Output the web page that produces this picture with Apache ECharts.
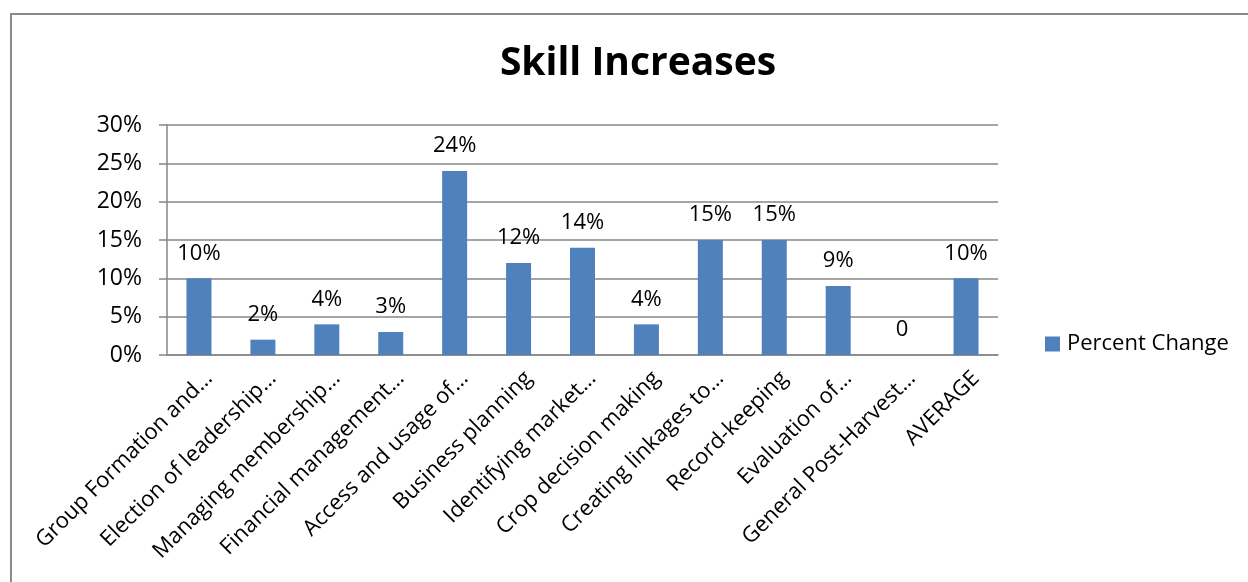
<!DOCTYPE html>
<html>
<head>
    <meta charset="utf-8">
    <title>Skill Increases</title>
    <script src="https://cdn.jsdelivr.net/npm/echarts@6/dist/echarts.min.js"></script>
    <style>
        html, body { margin: 0; padding: 0; background: #fff; }
        #chart1 { width: 1248px; height: 582px; }
    </style>
</head>
<body>
<div id="chart1"></div>
<script>
    // 数据
    var categories = ['Group Formation and\u2026', 'Election of leadership\u2026', 'Managing membership\u2026',
        'Financial management\u2026', 'Access and usage of\u2026', 'Business planning', 'Identifying market\u2026',
        'Crop decision making', 'Creating linkages to\u2026', 'Record-keeping', 'Evaluation of\u2026',
        'General Post-Harvest\u2026', 'AVERAGE'];
    var percentChange = [10, 2, 4, 3, 24, 12, 14, 4, 15, 15, 9, 0, 10];
    var yTicks = [0, 5, 10, 15, 20, 25, 30];

    var font = '"Open Sans", sans-serif';
    var gray = '#878787';

    var myChart = echarts.init(document.getElementById('chart1'));
    var option = {
        animation: false,
        textStyle: { fontFamily: font },
        title: {
            text: 'Skill Increases',
            left: 633,
            top: 39,
            textAlign: 'center',
            textStyle: { fontFamily: font, fontSize: 39, fontWeight: 'bold', color: '#000' }
        },
        graphic: [{
            type: 'rect',
            shape: { x: 11, y: 14, width: 1260, height: 600 },
            style: { fill: 'none', stroke: '#8a8a8a', lineWidth: 2 },
            silent: true
        }],
        legend: {
            data: [{ name: 'Percent Change', icon: 'rect' }],
            left: 1040,
            top: 328,
            itemWidth: 15,
            itemHeight: 15,
            itemGap: 6,
            textStyle: { fontFamily: font, fontSize: 22, color: '#000', padding: [0, 0, 0, 2] }
        },
        grid: { left: 167, right: 250, top: 125, bottom: 227 },
        xAxis: {
            type: 'category',
            data: categories,
            axisLine: { lineStyle: { color: gray, width: 1.5 } },
            axisTick: { length: 6, lineStyle: { color: gray, width: 1.5 } },
            axisLabel: {
                rotate: 45, interval: 0, fontFamily: font, fontSize: 22, color: '#000',
                margin: 10, verticalAlign: 'top', padding: [3, 0, 0, 0]
            }
        },
        yAxis: {
            type: 'value',
            min: yTicks[0],
            max: yTicks[yTicks.length - 1],
            interval: 5,
            axisLine: { show: true, lineStyle: { color: gray, width: 1.5 } },
            axisTick: { show: true, length: 8, lineStyle: { color: gray, width: 1.5 } },
            splitLine: { lineStyle: { color: gray, width: 1.5 } },
            axisLabel: { formatter: '{value}%', fontFamily: font, fontSize: 23, color: '#000', margin: 25 }
        },
        series: [{
            name: 'Percent Change',
            type: 'bar',
            data: percentChange,
            barWidth: 25,
            itemStyle: { color: '#4F81BD' },
            label: {
                show: true,
                position: 'top',
                distance: 14,
                fontFamily: font,
                fontSize: 22,
                color: '#000',
                formatter: function (p) { return p.value === 0 ? '0' : p.value + '%'; }
            }
        }]
    };
    myChart.setOption(option);
</script>
</body>
</html>
